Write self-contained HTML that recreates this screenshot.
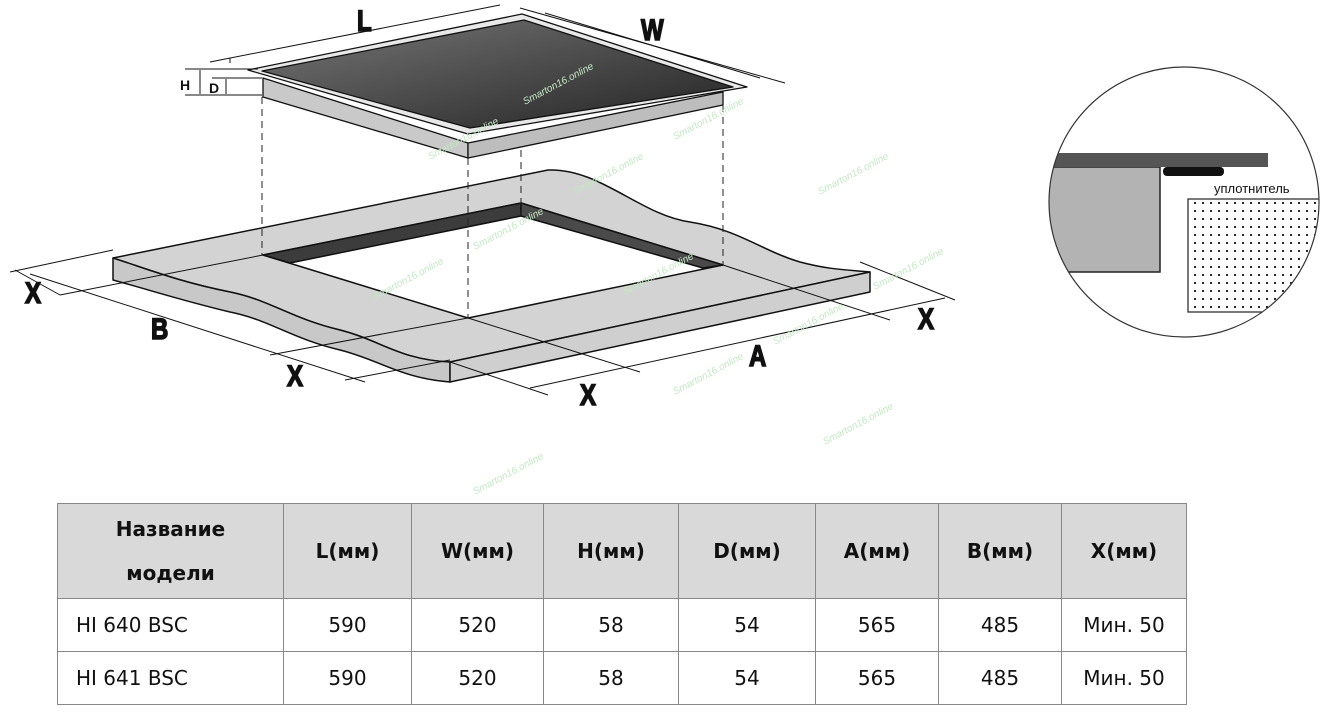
<!DOCTYPE html>
<html><head><meta charset="utf-8"><style>
body{margin:0;width:1328px;height:712px;background:#fff;overflow:hidden;font-family:"Liberation Sans","DejaVu Sans",sans-serif}
svg{position:absolute;left:0;top:0}
table{position:absolute;left:57px;top:503px;border-collapse:collapse;font-family:"DejaVu Sans","Liberation Sans",sans-serif;font-size:20px;color:#111}
td{border:1px solid #888;text-align:center;padding:0;height:52px}
tr.h td{background:#d9d9d9;font-weight:bold;height:94px}
tr.h td.t{line-height:44px}
td.n{text-align:left;padding-left:18px}
</style></head><body>
<svg width="1328" height="712" viewBox="0 0 1328 712">
<defs>
<linearGradient id="g" x1="0" y1="0" x2="1" y2="1"><stop offset="0" stop-color="#777"/><stop offset="0.6" stop-color="#444"/><stop offset="1" stop-color="#222"/></linearGradient>
<pattern id="dots" width="8" height="8" patternUnits="userSpaceOnUse"><circle cx="3" cy="3" r="1.1" fill="#111"/></pattern>
<clipPath id="cc"><circle cx="1184" cy="202" r="135"/></clipPath>
</defs>
<g stroke="#111" stroke-width="1.5" stroke-linejoin="round">
<path d="M113,258 L548,170 C600,168 640,215 690,222 C740,230 760,250 800,262 C830,270 850,270 870,272 L450,362 C400,360 380,340 340,330 C290,318 270,300 230,292 C180,282 150,270 113,258 Z" fill="#d3d3d3"/>
<path d="M113,258 C150,270 180,282 230,292 C270,300 290,318 340,330 C380,340 400,360 450,362 L450,382 C400,378 380,360 340,350 C290,338 270,320 230,312 C180,300 150,290 113,280 Z" fill="#c8c8c8"/>
<path d="M450,362 L870,272 L870,292 L450,382 Z" fill="#cfcfcf"/>
<path d="M263,255 L521,203 L723,265 L468,318 Z" fill="#fff"/>
<path d="M263,255 L521,203 L521,216 L290,263 Z" fill="#3c3c3c"/>
<path d="M521,203 L723,265 L703,268 L521,216 Z" fill="#4a4a4a"/>
</g>
<g stroke="#111" stroke-width="1.3" stroke-linejoin="round">
<path d="M263,78 L468,143 L468,158 L263,97 Z" fill="#c9c9c9"/>
<path d="M468,143 L723,92 L723,105 L468,158 Z" fill="#bdbdbd"/>
<path d="M248,70 L522,14 L747,87 L468,134 Z" fill="#e8e8e8"/>
<path d="M262,71 L524,20 L733,87 L470,128 Z" fill="url(#g)"/>
</g>
<g stroke="#222" stroke-width="1" stroke-dasharray="7,5">
<line x1="262" y1="97" x2="262" y2="255"/><line x1="468" y1="158" x2="468" y2="318"/>
<line x1="521" y1="150" x2="521" y2="217"/><line x1="723" y1="105" x2="723" y2="265"/>
</g>
<g stroke="#111" stroke-width="1" fill="none">
<line x1="210" y1="62" x2="500" y2="5"/><line x1="230" y1="58" x2="230" y2="63"/>
<line x1="520" y1="8" x2="785" y2="83"/><line x1="545" y1="13" x2="760" y2="78"/>
<line x1="185" y1="69" x2="258" y2="69"/><line x1="185" y1="95" x2="262" y2="95"/><line x1="212" y1="78" x2="262" y2="78"/>
<line x1="200" y1="70" x2="200" y2="94"/><line x1="226" y1="79" x2="226" y2="94"/>
<line x1="10" y1="272" x2="113" y2="250"/><line x1="60" y1="295" x2="263" y2="255"/>
<line x1="270" y1="355" x2="468" y2="318"/><line x1="345" y1="380" x2="450" y2="360"/>
<line x1="15" y1="270" x2="60" y2="295"/>
<line x1="30" y1="274" x2="365" y2="382"/>
<line x1="860" y1="262" x2="955" y2="300"/><line x1="723" y1="265" x2="890" y2="320"/>
<line x1="468" y1="318" x2="640" y2="372"/><line x1="450" y1="362" x2="548" y2="395"/>
<line x1="530" y1="388" x2="945" y2="298"/>
</g>
<g font-family="Liberation Sans,sans-serif" font-weight="bold" fill="#111" stroke="#111" stroke-width="1.6" font-size="30">
<text transform="translate(357,31) scale(0.8,1)">L</text><text transform="translate(641,40) scale(0.8,1)">W</text>
<text transform="translate(25,303) scale(0.8,1)">X</text><text transform="translate(151,339) scale(0.8,1)">B</text>
<text transform="translate(287,386) scale(0.8,1)">X</text><text transform="translate(580,405) scale(0.8,1)">X</text>
<text transform="translate(749,366) scale(0.8,1)">A</text><text transform="translate(918,329) scale(0.8,1)">X</text>
</g>
<g font-family="Liberation Sans,sans-serif" font-weight="bold" fill="#111">
<text x="180" y="90" font-size="14">H</text><text x="209" y="93" font-size="14">D</text>
</g>
<g font-size="10" fill="#c4e8c4" font-family="Liberation Sans,sans-serif" font-style="italic">
<text transform="translate(525,105) rotate(-28)">Smarton16.online</text>
<text transform="translate(430,160) rotate(-28)">Smarton16.online</text>
<text transform="translate(675,140) rotate(-28)">Smarton16.online</text>
<text transform="translate(820,195) rotate(-28)">Smarton16.online</text>
<text transform="translate(575,195) rotate(-28)">Smarton16.online</text>
<text transform="translate(475,250) rotate(-28)">Smarton16.online</text>
<text transform="translate(375,300) rotate(-28)">Smarton16.online</text>
<text transform="translate(625,295) rotate(-28)">Smarton16.online</text>
<text transform="translate(775,345) rotate(-28)">Smarton16.online</text>
<text transform="translate(675,395) rotate(-28)">Smarton16.online</text>
<text transform="translate(825,445) rotate(-28)">Smarton16.online</text>
<text transform="translate(475,495) rotate(-28)">Smarton16.online</text>
<text transform="translate(875,290) rotate(-28)">Smarton16.online</text>
</g>
<g clip-path="url(#cc)">
<rect x="1040" y="167" width="120" height="105" fill="#b3b3b3" stroke="#222" stroke-width="1.5"/>
<rect x="1040" y="153" width="228" height="14" fill="#555"/>
<rect x="1163" y="167" width="61" height="9" rx="4" fill="#111"/>
<rect x="1188" y="199" width="140" height="113" fill="url(#dots)" stroke="#222" stroke-width="1.2"/>
</g>
<circle cx="1184" cy="202" r="135" fill="none" stroke="#333" stroke-width="1.2"/>
<text x="1214" y="193" font-size="13" font-family="Liberation Sans,sans-serif" fill="#111">уплотнитель</text>
</svg>
<table>
<tr class="h"><td class="t" style="width:225px">Название<br>модели</td><td style="width:127px">L(мм)</td><td style="width:131px">W(мм)</td><td style="width:134px">H(мм)</td><td style="width:136px">D(мм)</td><td style="width:122px">A(мм)</td><td style="width:122px">B(мм)</td><td style="width:124px">X(мм)</td></tr>
<tr><td class="n">HI 640 BSC</td><td>590</td><td>520</td><td>58</td><td>54</td><td>565</td><td>485</td><td>Мин. 50</td></tr>
<tr><td class="n">HI 641 BSC</td><td>590</td><td>520</td><td>58</td><td>54</td><td>565</td><td>485</td><td>Мин. 50</td></tr>
</table>
</body></html>
